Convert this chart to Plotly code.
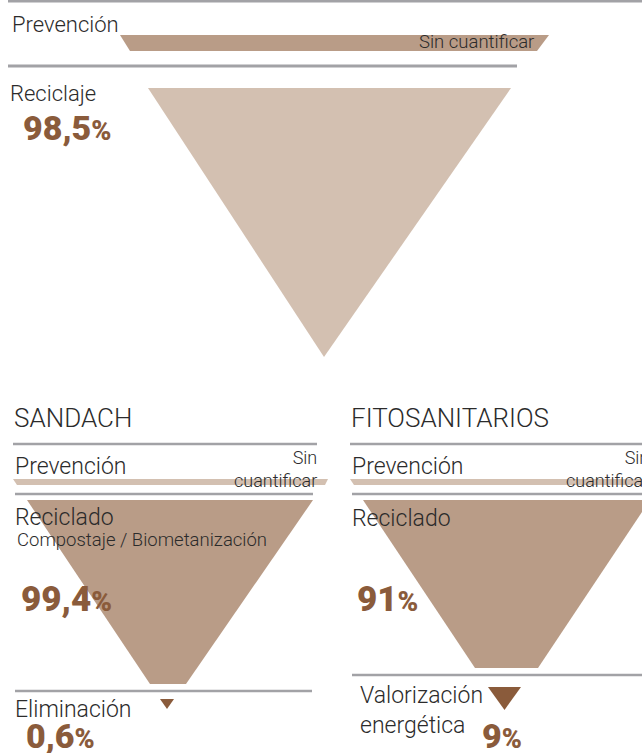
import plotly.graph_objects as go

# ---------------- data ----------------
top_levels = ["Prevención", "Reciclaje"]
top_values = [None, 98.5]
top_notes = ["Sin cuantificar", ""]

section_titles = ["SANDACH", "FITOSANITARIOS"]
sandach_levels = ["Prevención", "Reciclado", "Eliminación"]
sandach_sublabels = ["", "Compostaje / Biometanización", ""]
sandach_values = [None, 99.4, 0.6]
fito_levels = ["Prevención", "Reciclado", "Valorización<br>energética"]
fito_values = [None, 91, 9]
unquantified_note = "Sin<br>cuantificar"

# ---------------- styles ----------------
W, H = 642, 753
GRAY = "#a2a2a6"
LIGHT = "#d3c0b1"
MID = "#b99c87"
DARK = "#8a5b3b"
TXT = "#2b2b2b"
FONT = "Roboto"

def pct(v):
    s = f"{v:g}".replace(".", ",")
    return f"{s}<span style='font-size:0.8em'>%</span>"

fig = go.Figure()

def poly(xs, ys, color):
    fig.add_trace(go.Scatter(x=xs + [xs[0]], y=ys + [ys[0]], mode="lines",
                             fill="toself", fillcolor=color,
                             line=dict(width=0, color=color),
                             hoverinfo="skip", showlegend=False))

def hline(x0, x1, y, w=2.6):
    fig.add_shape(type="line", xref="x", yref="y", x0=x0, x1=x1, y0=y, y1=y,
                  line=dict(color=GRAY, width=w))

def text(x, y, s, size, color=TXT, anchor="left", weight=300, align=None):
    fig.add_annotation(x=x, y=y, xref="x", yref="y", text=s, showarrow=False,
                       xanchor=anchor, yanchor="middle", align=align or anchor,
                       font=dict(family=FONT, size=size, color=color, weight=weight),
                       )

# ---------------- top block ----------------
hline(8, W, 1, 3)
text(10, 24, top_levels[0], 22)
poly([120, 549, 537, 130], [35, 35, 51, 51], MID)
text(536, 42, top_notes[0], 18.5, anchor="right")
hline(8, 517, 66, 3)
text(8, 93, top_levels[1], 22)
poly([148, 511, 324], [88, 88, 357], LIGHT)
text(21, 128, pct(top_values[1]), 34, color=DARK, weight=900)

# ---------------- sections ----------------
for i, (title, levels, values) in enumerate(
        [(section_titles[0], sandach_levels, sandach_values),
         (section_titles[1], fito_levels, fito_values)]):
    ox = 0 if i == 0 else 337
    right = 317 + ox
    text(12 + ox, 418, title, 26)
    hline(13 + ox, right, 444)
    text(13 + ox, 466, levels[0], 23)
    poly([13 + ox, 328 + ox, 325 + ox, 17 + ox], [479, 479, 485, 485], LIGHT)
    # right-aligned two-line note; anchored by its left edge so it may run past the page
    text((232 if i == 0 else 564), 469, unquantified_note, 18, anchor="left", align="right")
    hline(15 + ox, right - 4, 494)

    if i == 0:
        poly([27, 313, 186, 150], [500, 500, 684, 684], MID)
        text(13, 517, levels[1], 23)
        text(15, 540, sandach_sublabels[1], 18.5)
        text(19, 599, pct(values[1]), 35, color=DARK, weight=900)
        hline(15, 312, 691)
        poly([160, 174, 167], [699, 699, 709], DARK)
        text(13, 709, levels[2], 23)
        text(24, 736, pct(values[2]), 34, color=DARK, weight=900)
    else:
        poly([363, 650, 538, 475], [500, 500, 668, 668], MID)
        text(350, 518, levels[1], 23)
        text(355, 599, pct(values[1]), 35, color=DARK, weight=900)
        hline(352, W, 675)
        poly([488, 521, 504.5], [687, 687, 710], DARK)
        text(358, 710, levels[2], 23)
        text(480, 736, pct(values[2]), 34, color=DARK, weight=900)

fig.update_layout(
    width=W, height=H,
    margin=dict(l=0, r=0, t=0, b=0),
    paper_bgcolor="white", plot_bgcolor="white",
    xaxis=dict(range=[0, W], visible=False, fixedrange=True),
    yaxis=dict(range=[H, 0], visible=False, fixedrange=True),
    showlegend=False,
)

fig.write_html("out.html", config=dict(displayModeBar=False),
               post_script="document.body.style.margin='0';document.body.style.overflow='hidden';")
